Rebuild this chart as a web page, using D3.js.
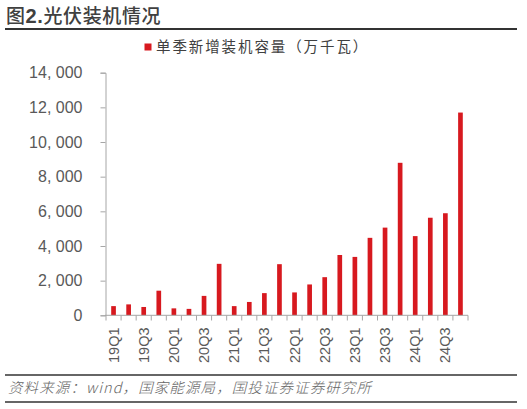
<!DOCTYPE html>
<html><head><meta charset="utf-8">
<script src="https://cdn.jsdelivr.net/npm/d3@7"></script>
<style>body{margin:0;background:#fff}svg{display:block}</style>
</head><body>
<svg id="c" width="527" height="409"></svg>
<script>
const categories = ["19Q1","19Q2","19Q3","19Q4","20Q1","20Q2","20Q3","20Q4","21Q1","21Q2","21Q3","21Q4","22Q1","22Q2","22Q3","22Q4","23Q1","23Q2","23Q3","23Q4","24Q1","24Q2","24Q3","24Q4"];
const installed = [530,630,480,1420,400,370,1120,2970,530,770,1280,2950,1320,1780,2200,3480,3370,4470,5060,8800,4570,5630,5890,11700];
const yTicks = [0,2000,4000,6000,8000,10000,12000,14000];
const titleParts = ["图","2.","光伏装机情况"];
const legendText = "单季新增装机容量（万千瓦）";
const sourceText = "资料来源：wind，国家能源局，国投证券证券研究所";

const svg = d3.select("#c");
const red = "#d7191f";
const axisCol = "#a6a6a6";
const labelCol = "#595959";
const latin = "Arial, 'Liberation Sans', sans-serif";
const cjk = "'Noto Sans CJK SC', sans-serif";

// title
const t = svg.append("text").attr("x",6).attr("y",23)
  .attr("font-family",cjk).attr("font-size",19).attr("letter-spacing",0.6).attr("fill","#404040");
t.append("tspan").text(titleParts[0]).attr("font-weight",500);
t.append("tspan").text(titleParts[1]).attr("font-family",latin).attr("font-weight","bold").attr("font-size",20);
t.append("tspan").text(titleParts[2]).attr("font-weight",500);
svg.append("line").attr("x1",5).attr("x2",517).attr("y1",29).attr("y2",29).attr("stroke","#333").attr("stroke-width",2);

// legend
svg.append("rect").attr("x",144.5).attr("y",43.5).attr("width",7).attr("height",7).attr("fill",red);
svg.append("text").attr("x",156).attr("y",52).text(legendText)
  .attr("font-family",cjk).attr("font-size",14.5).attr("letter-spacing",1.9).attr("fill","#404040");

const x = d3.scaleBand().domain(categories).range([106,468]).paddingInner(0.69).paddingOuter(0.345);
const y = d3.scaleLinear().domain([0,14000]).range([315.3,72.7]);

// y axis
const fmt = d => d3.format(",")(d).replace(",", ", ");
const yAxis = d3.axisLeft(y).tickValues(yTicks).tickSize(5).tickFormat(fmt);
const gy = svg.append("g").attr("transform","translate(105.5,0)").call(yAxis);
gy.select(".domain").attr("stroke",axisCol);
gy.selectAll(".tick line").attr("stroke",axisCol);
gy.selectAll(".tick text").attr("x",-23).attr("fill",labelCol)
  .attr("font-family",latin).attr("font-size",16);

// bars
svg.append("g").selectAll("rect").data(categories).join("rect")
  .attr("x",d=>x(d)).attr("width",x.bandwidth())
  .attr("y",(d,i)=>y(installed[i])).attr("height",(d,i)=>y(0)-y(installed[i]))
  .attr("fill",red);

// x axis baseline + ticks between categories
const step = x.step();
const bounds = d3.range(categories.length+1).map(i => 106 + i*step);
const gx = svg.append("g");
gx.append("line").attr("x1",105).attr("x2",468).attr("y1",315.3).attr("y2",315.3).attr("stroke",axisCol);
gx.selectAll("line.tk").data(bounds).join("line").attr("class","tk")
  .attr("x1",d=>d).attr("x2",d=>d).attr("y1",315.3).attr("y2",320.5).attr("stroke",axisCol);
gx.selectAll("text").data(categories.filter((d,i)=>i%2===0)).join("text")
  .attr("transform",d=>`translate(${x(d)+x.bandwidth()/2+5},327.5) rotate(-90)`)
  .attr("text-anchor","end").text(d=>d)
  .attr("font-family",latin).attr("font-size",14.5).attr("fill",labelCol);

// source
svg.append("line").attr("x1",5).attr("x2",517).attr("y1",375).attr("y2",375).attr("stroke","#333").attr("stroke-width",1.5);
svg.append("text").attr("x",8).attr("y",393).text(sourceText)
  .attr("font-family",cjk).attr("font-size",14.5).attr("font-weight",300).attr("letter-spacing",1.1).attr("fill","#666")
  .attr("transform","translate(98,0) skewX(-14)");
svg.append("line").attr("x1",5).attr("x2",517).attr("y1",402).attr("y2",402).attr("stroke","#333").attr("stroke-width",1.5);
</script>
</body></html>
